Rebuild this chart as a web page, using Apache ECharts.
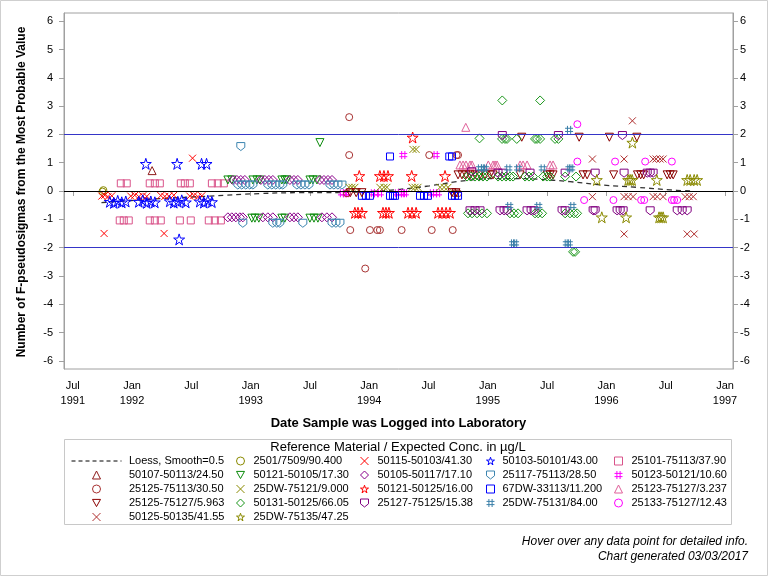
<!DOCTYPE html>
<html>
<head>
<meta charset="utf-8">
<script src="https://cdn.jsdelivr.net/npm/echarts@6/dist/echarts.min.js"></script>
<style>
html,body{margin:0;padding:0;background:#fff;}
#chart{width:768px;height:576px;}
</style>
</head>
<body>
<div id="chart"></div>
<script>
// ---------- axis ticks ----------
const xTickYears = [1991.5, 1992, 1992.5, 1993, 1993.5, 1994, 1994.5, 1995, 1995.5, 1996, 1996.5, 1997];
const xTickLabels = ['Jul\n1991','Jan\n1992','Jul','Jan\n1993','Jul','Jan\n1994','Jul','Jan\n1995','Jul','Jan\n1996','Jul','Jan\n1997'];
const yTicks = [-6,-5,-4,-3,-2,-1,0,1,2,3,4,5,6];
const refLines = [0, 2, -2];

// ---------- data: [decimal year logged, F-pseudosigmas] ----------
const loess = [[1991.742,-0.41],[1991.953,-0.35],[1992.234,-0.27],[1992.654,-0.18],[1993.078,-0.09],[1993.415,-0.06],[1993.610,-0.06],[1994.000,-0.02],[1994.259,0.06],[1994.506,0.18],[1994.737,0.33],[1994.909,0.41],[1995.044,0.44],[1995.250,0.44],[1995.415,0.42],[1995.693,0.33],[1995.975,0.21],[1996.257,0.13],[1996.538,0.04],[1996.706,0.00]];

const d_50107_50113 = [[1992.169,0.72]];
const d_2501_7509 = [[1991.750,-0.02],[1991.758,0.03]];
const d_50115_50103 = [[1991.745,-0.18],[1991.770,-0.15],[1991.796,-0.20],[1991.829,-0.17],
  [1991.989,-0.18],[1992.023,-0.15],[1992.057,-0.20],[1992.090,-0.17],[1992.124,-0.19],
  [1992.242,-0.16],[1992.276,-0.19],[1992.310,-0.18],[1992.352,-0.15],
  [1992.487,-0.18],[1992.521,-0.16],[1992.555,-0.20],[1992.588,-0.17],
  [1992.510,1.16],[1991.764,-1.50],[1992.270,-1.50]];
const d_50103_50101 = [[1991.812,-0.38],[1991.846,-0.42],[1991.879,-0.35],[1991.913,-0.40],[1991.947,-0.37],
  [1992.057,-0.38],[1992.090,-0.33],[1992.124,-0.42],[1992.158,-0.37],[1992.192,-0.40],
  [1992.318,-0.36],[1992.352,-0.41],[1992.386,-0.38],[1992.419,-0.33],[1992.453,-0.40],
  [1992.571,-0.37],[1992.605,-0.41],[1992.639,-0.34],[1992.673,-0.39],
  [1992.116,0.96],[1992.380,0.96],[1992.586,0.96],[1992.628,0.96],[1992.397,-1.71]];
const d_25101_75113 = [[1991.905,0.27],[1991.955,0.27],[1992.149,0.27],[1992.192,0.27],[1992.234,0.27],
  [1992.411,0.27],[1992.445,0.27],[1992.487,0.27],[1992.673,0.27],[1992.723,0.27],[1992.774,0.27],
  [1991.896,-1.04],[1991.930,-1.04],[1991.972,-1.04],[1992.149,-1.04],[1992.192,-1.04],[1992.242,-1.04],
  [1992.403,-1.04],[1992.495,-1.04],[1992.647,-1.04],[1992.698,-1.04],[1992.749,-1.04]];
const d_50121_50105 = [[1992.808,0.39],[1992.841,0.39],[1993.019,0.39],[1993.053,0.39],[1993.078,0.39],
  [1993.263,0.39],[1993.288,0.39],[1993.305,0.39],[1993.500,0.39],[1993.525,0.39],[1993.559,0.39],
  [1993.010,-0.96],[1993.036,-0.96],[1993.069,-0.96],[1993.263,-0.96],[1993.288,-0.96],
  [1993.500,-0.96],[1993.534,-0.96],[1993.567,-0.96],[1993.584,1.71]];
const d_50105_50117 = [[1992.850,0.39],[1992.884,0.39],[1992.917,0.39],[1992.951,0.39],
  [1993.086,0.39],[1993.120,0.39],[1993.154,0.39],[1993.187,0.39],
  [1993.331,0.39],[1993.365,0.39],[1993.398,0.39],
  [1993.584,0.39],[1993.618,0.39],[1993.652,0.39],[1993.686,0.39],
  [1992.808,-0.93],[1992.841,-0.93],[1992.875,-0.93],[1992.909,-0.93],[1992.934,-0.93],
  [1993.103,-0.93],[1993.145,-0.93],[1993.187,-0.93],
  [1993.331,-0.93],[1993.365,-0.93],[1993.398,-0.93],
  [1993.601,-0.93],[1993.643,-0.93],[1993.686,-0.93]];
const d_25117_75113 = [[1992.917,1.57],
  [1992.892,0.21],[1992.925,0.21],[1992.959,0.21],[1992.993,0.21],[1993.019,0.21],
  [1993.145,0.21],[1993.179,0.21],[1993.212,0.21],[1993.246,0.21],[1993.271,0.21],
  [1993.390,0.21],[1993.424,0.21],[1993.458,0.21],[1993.492,0.21],
  [1993.669,0.21],[1993.702,0.21],[1993.736,0.21],[1993.770,0.21],
  [1992.934,-1.14],[1993.187,-1.14],[1993.221,-1.14],[1993.246,-1.14],[1993.440,-1.14],
  [1993.686,-1.14],[1993.719,-1.14],[1993.753,-1.14]];
const d_50123_50121 = [[1994.287,1.27],[1994.560,1.27],
  [1993.770,-0.08],[1993.795,-0.08],[1993.812,-0.08],
  [1994.031,-0.08],[1994.057,-0.08],[1994.090,-0.08],
  [1994.234,-0.08],[1994.259,-0.08],[1994.284,-0.08],[1994.301,-0.08],
  [1994.529,-0.08],[1994.555,-0.08],[1994.580,-0.08]];
const d_25125_75113 = [[1993.831,2.61],[1993.831,1.27],[1994.506,1.27],[1994.737,1.27],[1994.749,1.27],
  [1993.840,-1.38],[1994.006,-1.38],[1994.068,-1.38],[1994.090,-1.38],[1994.273,-1.38],[1994.527,-1.38],[1994.704,-1.38],
  [1993.966,-2.74],[1993.812,-0.08],[1994.723,-0.08],[1994.749,-0.08]];
const d_25DW_75121 = [[1994.369,1.47],[1994.395,1.47],
  [1993.829,0.13],[1993.854,0.13],[1993.879,0.13],
  [1994.090,0.13],[1994.124,0.13],[1994.149,0.13],
  [1994.361,0.13],[1994.386,0.13],[1994.411,0.13],
  [1994.597,0.13],[1994.631,0.13],[1994.664,0.13]];
const d_50121_50125 = [[1994.366,1.89],
  [1993.916,0.53],[1994.090,0.53],[1994.124,0.53],[1994.158,0.53],[1994.358,0.53],[1994.639,0.53],
  [1993.879,-0.77],[1993.905,-0.77],[1993.938,-0.77],
  [1994.116,-0.77],[1994.141,-0.77],[1994.166,-0.77],
  [1994.327,-0.77],[1994.361,-0.77],[1994.395,-0.77],
  [1994.580,-0.77],[1994.614,-0.77],[1994.648,-0.77],[1994.681,-0.77]];
const d_67DW_33113 = [[1994.175,1.22],[1994.675,1.22],[1994.698,1.22],
  [1993.938,-0.17],[1993.972,-0.17],[1994.006,-0.17],
  [1994.175,-0.17],[1994.200,-0.17],[1994.217,-0.17],
  [1994.428,-0.17],[1994.462,-0.17],[1994.495,-0.17],
  [1994.698,-0.17],[1994.723,-0.17],[1994.749,-0.17]];
const d_25123_75127 = [[1994.814,2.25],
  [1994.765,0.92],[1994.791,0.92],[1994.816,0.92],[1994.850,0.92],[1994.867,0.92],[1995.004,0.92],
  [1995.044,0.92],[1995.061,0.92],[1995.078,0.92],
  [1995.272,0.92],[1995.297,0.92],[1995.331,0.92],
  [1995.525,0.92],[1995.550,0.92]];
const d_25125_75127 = [[1993.840,-0.06],[1993.890,-0.06],[1993.938,-0.06],[1994.698,-0.06],[1994.731,-0.06],
  [1994.749,0.57],[1994.782,0.57],[1994.816,0.57],[1994.850,0.57],[1994.892,0.57],[1994.934,0.57],[1994.976,0.57],
  [1995.019,0.57],[1995.044,0.57],[1995.272,0.57],
  [1995.500,0.57],[1995.525,0.57],[1995.550,0.57],
  [1995.803,0.57],[1995.837,0.57],[1996.061,0.57],
  [1996.262,0.57],[1996.289,0.57],[1996.314,0.57],
  [1996.512,0.57],[1996.538,0.57],[1996.563,0.57],
  [1995.286,1.90],[1995.770,1.90],[1996.025,1.90],[1996.257,1.90]];
const d_50131_50125 = [[1995.122,3.20],[1995.441,3.20],
  [1994.930,1.86],[1995.120,1.84],[1995.145,1.84],[1995.162,1.84],[1995.244,1.84],
  [1995.398,1.84],[1995.415,1.84],[1995.441,1.84],[1995.567,1.84],[1995.595,1.84],
  [1994.825,0.51],[1994.859,0.51],[1994.892,0.51],[1994.926,0.51],[1994.959,0.51],[1994.993,0.51],
  [1995.086,0.51],[1995.120,0.51],[1995.153,0.51],[1995.187,0.51],[1995.213,0.51],
  [1995.314,0.51],[1995.347,0.51],[1995.381,0.51],
  [1995.466,0.51],[1995.500,0.51],[1995.525,0.51],[1995.652,0.51],[1995.744,0.51],
  [1994.833,-0.79],[1994.867,-0.79],[1994.909,-0.79],[1994.951,-0.79],[1994.993,-0.79],
  [1995.187,-0.79],[1995.221,-0.79],[1995.255,-0.79],
  [1995.398,-0.79],[1995.424,-0.79],[1995.458,-0.79],
  [1995.652,-0.79],[1995.693,-0.79],[1995.727,-0.79],[1995.753,-0.79],
  [1995.719,-2.15],[1995.736,-2.15]];
const d_25127_75125 = [[1995.122,1.96],[1995.595,1.96],[1996.135,1.96],
  [1994.864,0.68],[1995.086,0.63],[1995.128,0.63],[1995.356,0.63],[1995.652,0.63],[1995.905,0.63],
  [1996.149,0.63],[1996.344,0.63],[1996.369,0.63],[1996.394,0.63],
  [1994.850,-0.70],[1994.892,-0.70],[1994.934,-0.70],
  [1995.103,-0.70],[1995.137,-0.70],[1995.162,-0.70],
  [1995.331,-0.70],[1995.365,-0.70],[1995.390,-0.70],
  [1995.626,-0.70],[1995.652,-0.70],[1995.888,-0.70],[1995.905,-0.70],
  [1996.090,-0.70],[1996.116,-0.70],[1996.141,-0.70],[1996.369,-0.70],
  [1996.597,-0.70],[1996.639,-0.70],[1996.681,-0.70]];
const d_25DW_75131 = [[1995.685,2.16],
  [1994.934,0.80],[1994.959,0.80],[1994.976,0.80],[1995.173,0.80],[1995.255,0.80],[1995.463,0.80],
  [1995.688,0.80],[1995.703,0.80],
  [1995.181,-0.53],[1995.426,-0.53],[1995.713,-0.53],
  [1995.213,-1.85],[1995.230,-1.85],[1995.666,-1.85],[1995.683,-1.85]];
const d_25133_75127 = [[1995.755,2.36],
  [1995.755,1.04],[1996.073,1.04],[1996.327,1.04],[1996.552,1.04],
  [1995.812,-0.32],[1996.059,-0.32],[1996.293,-0.32],[1996.319,-0.32],
  [1996.552,-0.32],[1996.571,-0.32],[1996.597,-0.32]];
const d_50125_50135 = [[1996.219,2.48],
  [1995.882,1.13],[1996.149,1.13],[1996.394,1.13],[1996.419,1.13],[1996.453,1.13],[1996.478,1.13],
  [1995.882,-0.20],[1996.149,-0.20],[1996.183,-0.20],[1996.225,-0.20],
  [1996.394,-0.20],[1996.428,-0.20],[1996.478,-0.20],
  [1996.664,-0.20],[1996.698,-0.20],[1996.732,-0.20],
  [1996.149,-1.52],[1996.681,-1.52],[1996.740,-1.52]];
const d_25DW_75135 = [[1996.219,1.71],
  [1995.919,0.39],[1996.183,0.39],[1996.200,0.39],[1996.217,0.39],[1996.425,0.39],
  [1996.681,0.39],[1996.706,0.39],[1996.740,0.39],[1996.765,0.39],
  [1995.961,-0.93],[1996.166,-0.93],[1996.444,-0.93],[1996.461,-0.93],[1996.478,-0.93]];

// ---------- symbols & styles ----------
const SYM = {
  circle: 'circle', square: 'rect', triangle: 'triangle', diamond: 'diamond',
  triDown: 'path://M0,0L10,0L5,9Z',
  x: 'path://M0,0L10,10M0,10L10,0',
  hash: 'path://M3,0L3,10M7,0L7,10M0,3L10,3M0,7L10,7',
  shield: 'path://M0,0L10,0L10,6L5,10L0,6Z',
  star: 'path://M0,-10L2.245,-3.09L9.511,-3.09L3.633,1.18L5.878,8.09L0,3.82L-5.878,8.09L-3.633,1.18L-9.511,-3.09L-2.245,-3.09Z'
};
const SIZE = {circle:7, square:7, triangle:8, diamond:9, triDown:8, x:7, hash:8, shield:8, star:11};

const seriesDefs = [
  {name:'50107-50113/24.50', data:d_50107_50113, sym:'triangle', color:'#8E1A1A'},
  {name:'2501/7509/90.400', data:d_2501_7509, sym:'circle', color:'#8A8A00'},
  {name:'50115-50103/41.30', data:d_50115_50103, sym:'x', color:'#FF0000'},
  {name:'50103-50101/43.00', data:d_50103_50101, sym:'star', color:'#0000FF'},
  {name:'25101-75113/37.90', data:d_25101_75113, sym:'square', color:'#D9538A'},
  {name:'50121-50105/17.30', data:d_50121_50105, sym:'triDown', color:'#0A8A0A'},
  {name:'50105-50117/17.10', data:d_50105_50117, sym:'diamond', color:'#8B008B'},
  {name:'25117-75113/28.50', data:d_25117_75113, sym:'shield', color:'#3C85B0'},
  {name:'50123-50121/10.60', data:d_50123_50121, sym:'hash', color:'#FF00FF'},
  {name:'25125-75113/30.50', data:d_25125_75113, sym:'circle', color:'#A83232'},
  {name:'25DW-75121/9.000', data:d_25DW_75121, sym:'x', color:'#8A8A00'},
  {name:'50121-50125/16.00', data:d_50121_50125, sym:'star', color:'#FF0000'},
  {name:'67DW-33113/11.200', data:d_67DW_33113, sym:'square', color:'#0000FF'},
  {name:'25123-75127/3.237', data:d_25123_75127, sym:'triangle', color:'#E0609A'},
  {name:'25125-75127/5.963', data:d_25125_75127, sym:'triDown', color:'#8B0000'},
  {name:'50131-50125/66.05', data:d_50131_50125, sym:'diamond', color:'#1A961A'},
  {name:'25127-75125/15.38', data:d_25127_75125, sym:'shield', color:'#800080'},
  {name:'25DW-75131/84.00', data:d_25DW_75131, sym:'hash', color:'#3A7FA8'},
  {name:'25133-75127/12.43', data:d_25133_75127, sym:'circle', color:'#FF00FF'},
  {name:'50125-50135/41.55', data:d_50125_50135, sym:'x', color:'#B03030'},
  {name:'25DW-75135/47.25', data:d_25DW_75135, sym:'star', color:'#8A8A00'}
];

const LOESS_NAME = 'Loess, Smooth=0.5';
const legendCols = [
  ['50107-50113/24.50','25125-75113/30.50','25125-75127/5.963','50125-50135/41.55'],
  ['2501/7509/90.400','50121-50105/17.30','25DW-75121/9.000','50131-50125/66.05','25DW-75135/47.25'],
  ['50115-50103/41.30','50105-50117/17.10','50121-50125/16.00','25127-75125/15.38'],
  ['50103-50101/43.00','25117-75113/28.50','67DW-33113/11.200','25DW-75131/84.00'],
  ['25101-75113/37.90','50123-50121/10.60','25123-75127/3.237','25133-75127/12.43']
];
const legendCenter = [96, 240, 364, 490, 618];
const legendTextX = [128.5, 253, 377, 502, 631];
const legendTop = [468, 454, 454, 454, 454];

const FONT = '"Liberation Sans", Arial, Helvetica, sans-serif';
const X_MIN = 1991.426, X_MAX = 1997.0675, Y_MIN = -6.29, Y_MAX = 6.29;
const AXIS_GRAY = '#a0a0a0';

function xLabel(v){
  let best = 0, bd = 1e9;
  xTickYears.forEach((t,i)=>{ const d = Math.abs(t - v); if (d < bd){bd = d; best = i;} });
  return xTickLabels[best];
}

const series = [{
  name: LOESS_NAME, type: 'line', data: loess, smooth: 0.4, symbol: 'none', showSymbol: false,
  lineStyle: {color:'#333', width:1.3, type:[5,4]}, itemStyle:{color:'#333'}, z: 3,
  markLine: {
    silent: true, symbol: ['none','none'], label: {show:false},
    data: refLines.map(v => ({yAxis: v, lineStyle: {color: v === 0 ? '#000' : '#3535C8', width: 1, type: 'solid'}}))
  }
}];
seriesDefs.forEach(s => {
  series.push({
    name: s.name, type: 'scatter', data: s.data,
    symbol: SYM[s.sym], symbolSize: SIZE[s.sym],
    itemStyle: {color: 'rgba(0,0,0,0)', borderColor: s.color, borderWidth: 1, opacity: 1},
    z: 4
  });
});

const ICON = 8;
const legendText = {fontSize: 11, lineHeight: 14, color: '#000', fontFamily: FONT};
const legends = legendCols.map((col, i) => ({
  data: col, orient: 'vertical', left: legendCenter[i] - ICON / 2, top: legendTop[i],
  itemWidth: ICON, itemHeight: ICON, itemGap: 0, padding: 0,
  symbolKeepAspect: true, selectedMode: false,
  itemStyle: {color: 'rgba(0,0,0,0)', borderWidth: 1},
  textStyle: Object.assign({}, legendText, {padding: [0, 0, 0, legendTextX[i] - (legendCenter[i] + ICON / 2 + 5)]})
}));
// Loess entry: dashed line icon
legends.push({
  data: [{name: LOESS_NAME, itemStyle: {opacity: 0}, lineStyle: {color: '#000', width: 1, type: [4, 3]}}],
  orient: 'vertical', left: 71, top: 454,
  itemWidth: 50, itemHeight: 8, itemGap: 0, padding: 0, selectedMode: false,
  textStyle: Object.assign({}, legendText, {padding: [0, 0, 0, 2.5]})
});

const chart = echarts.init(document.getElementById('chart'), null, {renderer: 'canvas'});
chart.setOption({
  animation: false,
  backgroundColor: '#fff',
  grid: {left: 64, top: 13, width: 669, height: 356, show: true, borderColor: AXIS_GRAY, borderWidth: 1, backgroundColor: 'transparent'},
  xAxis: {
    type: 'value', min: X_MIN, max: X_MAX,
    axisLine: {show: true, lineStyle: {color: AXIS_GRAY}},
    axisTick: {show: true, customValues: xTickYears, length: 5, lineStyle: {color: AXIS_GRAY}},
    axisLabel: {customValues: xTickYears, formatter: xLabel, margin: 9, fontSize: 11, lineHeight: 15.5, color: '#000', fontFamily: FONT},
    splitLine: {show: false}
  },
  yAxis: [{
    type: 'value', min: Y_MIN, max: Y_MAX, position: 'left',
    axisLine: {show: true, lineStyle: {color: AXIS_GRAY}},
    axisTick: {show: true, customValues: yTicks, length: 5, lineStyle: {color: AXIS_GRAY}},
    axisLabel: {customValues: yTicks, margin: 11, fontSize: 11, color: '#000', fontFamily: FONT},
    splitLine: {show: false}
  }, {
    type: 'value', min: Y_MIN, max: Y_MAX, position: 'right',
    axisLine: {show: true, lineStyle: {color: AXIS_GRAY}},
    axisTick: {show: true, customValues: yTicks, length: 5, lineStyle: {color: AXIS_GRAY}},
    axisLabel: {customValues: yTicks, margin: 7, fontSize: 11, color: '#000', fontFamily: FONT},
    splitLine: {show: false}
  }],
  legend: legends,
  series: series,
  graphic: [
    {type:'rect', shape:{x:0.5, y:0.5, width:767, height:575}, style:{fill:'none', stroke:'#cfcfcf', lineWidth:1}, silent:true},
    {type:'rect', shape:{x:64.5, y:439.5, width:667, height:85}, style:{fill:'none', stroke:'#c8c8c8', lineWidth:1}, silent:true},
    {type:'text', x:398, y:447, style:{text:'Reference Material / Expected Conc. in µg/L', font:'13px ' + FONT, fill:'#000', textAlign:'center', textVerticalAlign:'middle'}},
    {type:'text', x:398.5, y:423, style:{text:'Date Sample was Logged into Laboratory', font:'bold 13px ' + FONT, fill:'#000', textAlign:'center', textVerticalAlign:'middle'}},
    {type:'text', x:22, y:192, rotation: Math.PI/2, style:{text:'Number of F-pseudosigmas from the Most Probable Value', font:'bold 12px ' + FONT, fill:'#000', textAlign:'center', textVerticalAlign:'middle'}},
    {type:'text', x:748, y:542, style:{text:'Hover over any data point for detailed info.', font:'italic 12px ' + FONT, fill:'#000', textAlign:'right', textVerticalAlign:'middle'}},
    {type:'text', x:748, y:557, style:{text:'Chart generated 03/03/2017', font:'italic 12px ' + FONT, fill:'#000', textAlign:'right', textVerticalAlign:'middle'}}
  ]
});
</script>
</body>
</html>
